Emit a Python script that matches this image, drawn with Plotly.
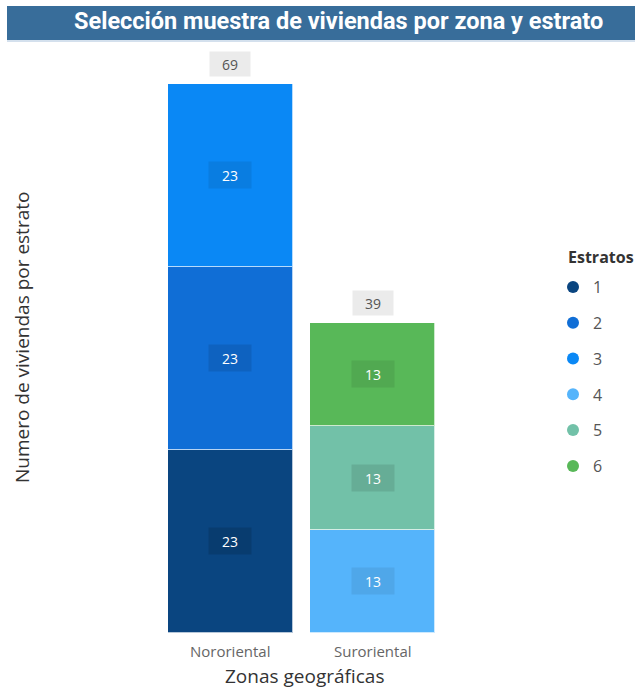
import plotly.graph_objects as go

# Sample of dwellings by geographic zone and socioeconomic stratum
zonas = ["Nororiental", "Suroriental"]
estratos = ["1", "2", "3", "4", "5", "6"]
zona_de_estrato = ["Nororiental", "Nororiental", "Nororiental",
                   "Suroriental", "Suroriental", "Suroriental"]
viviendas = [23, 23, 23, 13, 13, 13]
colores = ["#0a4580", "#106ed6", "#0a88f5", "#55b4fb", "#72c1a8", "#58b858"]
cajas = ["rgba(0,0,0,0.13)", "rgba(0,0,0,0.10)", "rgba(0,0,0,0.08)",
         "rgba(0,0,0,0.07)", "rgba(0,0,0,0.10)", "rgba(0,0,0,0.08)"]

W, H = 635, 688
ML, MR, MT, MB = 159, W - 444, 36, 55
PW, PH = W - ML - MR, H - MT - MB


def px_x(px):
    return (px - ML) / PW


def px_y(py):
    return (H - MB - py) / PH


fig = go.Figure()

for est, zona, val, col in zip(estratos, zona_de_estrato, viviendas, colores):
    fig.add_trace(go.Bar(
        x=[zona], y=[val], name=est,
        marker=dict(color=col, line=dict(color="rgba(255,255,255,0.7)", width=1)),
        width=0.877, showlegend=False, hoverinfo="x+y+name",
    ))

# legend entries drawn as round markers
for est, col in zip(estratos, colores):
    fig.add_trace(go.Scatter(
        x=[None], y=[None], mode="markers", name=est, legendgroup=est,
        marker=dict(color=col, size=13, symbol="circle"),
    ))

annotations = []

# segment value labels
base = {z: 0 for z in zonas}
for zona, val, caja in zip(zona_de_estrato, viviendas, cajas):
    annotations.append(dict(
        x=zona, y=base[zona] + val / 2, xref="x", yref="y", text=str(val),
        showarrow=False, font=dict(family="Open Sans", size=14, color="white"),
        bgcolor=caja, width=38, height=22, borderpad=2,
    ))
    base[zona] += val

# stack totals
for zona in zonas:
    annotations.append(dict(
        x=zona, y=base[zona], xref="x", yref="y", text=str(base[zona]),
        showarrow=False, yshift=20, font=dict(family="Open Sans", size=14, color="#555555"),
        bgcolor="#ebebeb", width=36, height=20, borderpad=2,
    ))

# title banner text
annotations.append(dict(
    x=px_x(338), y=px_y(21), xref="paper", yref="paper",
    text="<b>Selección muestra de viviendas por zona y estrato</b>",
    showarrow=False, font=dict(family="Roboto", size=23.5, color="white"),
    xanchor="center", yanchor="middle",
))

# axis titles
annotations.append(dict(
    x=px_x(22), y=px_y(338), xref="paper", yref="paper",
    text="Numero de viviendas por estrato", textangle=-90,
    showarrow=False, font=dict(family="Open Sans", size=19, color="#333333"),
    xanchor="center", yanchor="middle",
))
annotations.append(dict(
    x=px_x(304), y=px_y(676), xref="paper", yref="paper",
    text="Zonas geográficas",
    showarrow=False, font=dict(family="Open Sans", size=19, color="#333333"),
    xanchor="center", yanchor="middle",
))

# legend heading
annotations.append(dict(
    x=px_x(566), y=px_y(257), xref="paper", yref="paper",
    text="<b>Estratos</b>",
    showarrow=False, font=dict(family="Open Sans", size=16, color="#333333"),
    xanchor="left", yanchor="middle",
))

shapes = [
    dict(type="rect", xref="paper", yref="paper",
         x0=px_x(7), x1=px_x(635), y0=px_y(40), y1=px_y(6),
         fillcolor="#386d9a", line=dict(width=0), layer="below"),
    dict(type="line", xref="paper", yref="paper",
         x0=px_x(7), x1=px_x(635), y0=px_y(41), y1=px_y(41),
         line=dict(color="#a9c2dc", width=1)),
]

fig.update_layout(
    width=W, height=H,
    margin=dict(l=ML, r=MR, t=MT, b=MB),
    paper_bgcolor="white", plot_bgcolor="white",
    barmode="stack", bargap=0,
    font=dict(family="Open Sans", color="#333333"),
    xaxis=dict(
        range=[-0.5, 1.5], showgrid=False, showline=False, zeroline=False,
        tickfont=dict(size=15, color="#666666"), ticks="", ticklabelstandoff=8,
    ),
    yaxis=dict(
        range=[0, 75], showgrid=False, showline=False, zeroline=False,
        showticklabels=False, ticks="",
    ),
    legend=dict(
        x=px_x(553), y=px_y(270), xanchor="left", yanchor="top",
        font=dict(size=16, color="#555555"), tracegroupgap=12,
        itemsizing="constant",
    ),
    annotations=annotations,
    shapes=shapes,
)

fig.write_html("out.html")
